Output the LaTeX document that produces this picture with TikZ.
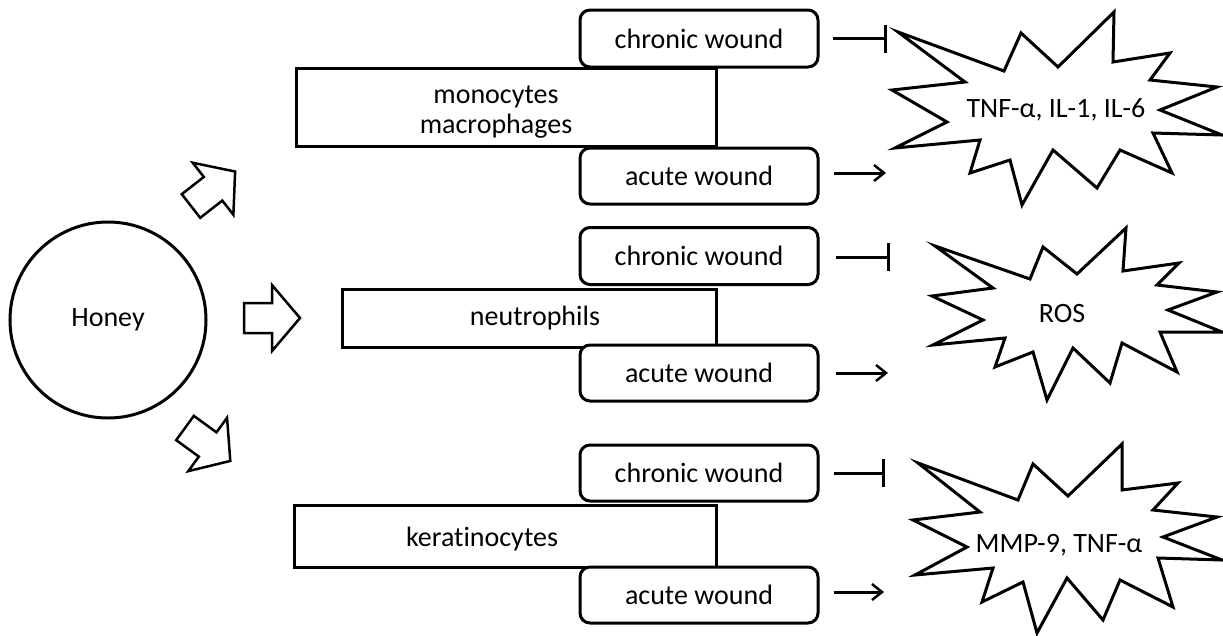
\documentclass[tikz,border=0pt]{standalone}
\usepackage{fontspec}
\setmainfont[Ligatures={NoCommon}]{Carlito}
\usetikzlibrary{arrows.meta,calc}
\begin{document}
\begin{tikzpicture}[x=1pt,y=-1pt,
  every node/.style={font=\fontsize{28}{33}\selectfont, inner sep=0pt},
  wbox/.style={draw, line width=3pt, rounded corners=10pt, minimum width=238pt, minimum height=56pt, fill=white},
  cellbox/.style={draw, line width=3pt},
  honeyc/.style={draw, circle, line width=3pt, minimum size=196pt},
  inhib/.style={line width=3pt, -{Bar[width=28pt,line width=3pt]}},
  activ/.style={line width=3pt, -{Straight Barb[length=10pt,width=16pt,line width=2.5pt]}},
  starline/.style={draw, line width=3pt, line join=miter, miter limit=20},
  barrow/.style={draw, line width=2.5pt, line join=miter},
  blockarrow/.pic={\draw[barrow] (0,-15)--(28,-15)--(28,-33)--(56,0)--(28,33)--(28,15)--(0,15)--cycle;}
]
\useasboundingbox (0,0) rectangle (1223,635);

% Honey
\node[honeyc] (honey) at (108,320) {Honey};

% block arrows
\pic[rotate=38] at (191,206) {blockarrow};
\pic at (244,318) {blockarrow};
\pic[rotate=-36] at (185,428) {blockarrow};

% cell rectangles
\node[cellbox, minimum width=420pt, minimum height=78pt] (mono) at (506,107) {};
\node[align=center] (monot) at (496,112) {monocytes\\[-3pt]macrophages};
\node[cellbox, minimum width=374pt, minimum height=58pt] (neut) at (529,318) {};
\node (neutt) at (535,318) {neutrophils};
\node[cellbox, minimum width=422pt, minimum height=62pt] (kera) at (505,536) {};
\node (kerat) at (482,539) {keratinocytes};

% wound boxes
\node[wbox, minimum height=57pt] (c1) at (699,38.5) {chronic wound};
\node[wbox] (a1) at (699,176) {acute wound};
\node[wbox, minimum height=57pt] (c2) at (699,256) {chronic wound};
\node[wbox] (a2) at (699,373) {acute wound};
\node[wbox] (c3) at (699,473) {chronic wound};
\node[wbox] (a3) at (699,595) {acute wound};

% connector ends
\coordinate (ie1) at (887,38.5);
\coordinate (ae1) at (886,173);
\coordinate (ie2) at (890,257);
\coordinate (ae2) at (888,373);
\coordinate (ie3) at (885,473);
\coordinate (ae3) at (884,592);

\draw[inhib] ([xshift=13pt]c1.east) -- (ie1);
\draw[activ] ([xshift=14pt,yshift=3pt]a1.east) -- (ae1);
\draw[inhib] ([xshift=16pt,yshift=-1pt]c2.east) -- (ie2);
\draw[activ] ([xshift=16pt]a2.east) -- (ae2);
\draw[inhib] ([xshift=14pt]c3.east) -- (ie3);
\draw[activ] ([xshift=14pt,yshift=3pt]a3.east) -- (ae3);

% stars
\draw[starline] (898,32)--(1004,71)--(1021,33)--(1058,67)--(1114,12)--(1113,62)--(1170,53)--(1150,80)--(1217,87)--(1160,110)--(1222,135)--(1153,133)--(1172,173)--(1120,150)--(1097,188)--(1053,150)--(1022,205)--(1010,160)--(970,173)--(980,140)--(895,148)--(947,122)--(892,90)--(965,82)--cycle;
\node (t1) at (1056,110) {TNF-α, IL-1, IL-6};

\draw[starline] (935,246)--(1030,279)--(1043,247)--(1077,274)--(1126,228)--(1123,271)--(1179,263)--(1157,285)--(1217,292)--(1168,310)--(1222,332)--(1160,332)--(1177,372)--(1122,343)--(1110,383)--(1073,348)--(1047,400)--(1033,352)--(995,367)--(1005,338)--(933,345)--(983,320)--(932,296)--(993,288)--cycle;
\node (t2) at (1062,314) {ROS};

\draw[starline] (918,463)--(1018,500)--(1033,464)--(1068,496)--(1122,444)--(1122,490)--(1178,483)--(1153,510)--(1217,517)--(1163,537)--(1222,560)--(1158,558)--(1173,607)--(1120,580)--(1103,620)--(1067,578)--(1037,633)--(1023,582)--(982,602)--(993,568)--(915,575)--(967,547)--(913,520)--(980,512)--cycle;
\node (t3) at (1059,545) {MMP-9, TNF-α};
\end{tikzpicture}
\end{document}
